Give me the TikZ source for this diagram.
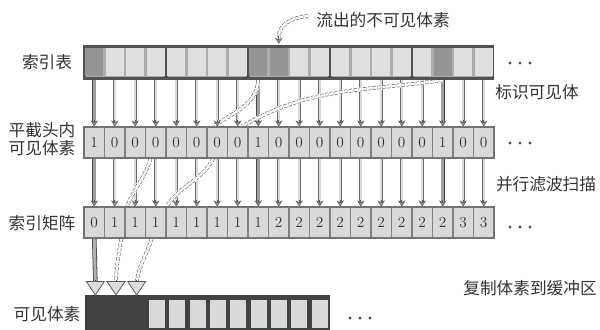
\documentclass[tikz,border=0pt]{standalone}
\usepackage{fontspec}
\newfontfamily\cjk{Noto Sans CJK SC}
\usetikzlibrary{arrows.meta,calc}
\pgfdeclarelayer{bg}
\pgfsetlayers{bg,main}
\begin{document}
\begin{tikzpicture}[x=0.75pt,y=-0.75pt,
  lbl/.style={font=\cjk\fontsize{12.5}{13}\selectfont, text=black!80, inner sep=0, align=center},
  topcell/.style={fill=black!12, minimum width=13.5pt, minimum height=21pt, inner sep=0},
  topdark/.style={topcell, fill=black!42},
  rowcell/.style={draw=black!50, line width=0.8pt, fill=black!15, minimum width=15.375pt, minimum height=23.25pt, inner sep=0, font=\fontsize{11.5}{13}\selectfont, text=black!80},
  outcell/.style={fill=black!15, minimum width=12pt, minimum height=21pt, inner sep=0},
  outdark/.style={minimum width=12pt, minimum height=21pt, inner sep=0},
  shaft/.style={draw=black!58, line width=0.5pt, double=black!15, double distance=1.5pt, shorten >=3pt},
  vshaft/.style={draw=black!72, line width=0.6pt, double=black!38, double distance=2pt, shorten >=3pt},
  bigshaft/.style={draw=black!72, line width=0.6pt, double=black!30, double distance=2.2pt},
  whitebg/.style={draw=white, line width=3.4pt},
  dcurve/.style={draw=black!62, line width=0.45pt, dash pattern=on 2.4pt off 1.2pt, double=white, double distance=1.8pt},
  headsmall/.style={draw=black!65, line width=0.4pt, -{Stealth[length=4.5pt,width=5.5pt,fill=black!40]}},
  headbig/.style={draw=black!65, line width=0.6pt, -{Triangle[length=11pt,width=14.5pt,fill=black!14]}},
  dot/.style={fill=black!70}]
\useasboundingbox (0,0) rectangle (600,329);

% ---- top bar (index table)
\fill[black!68] (83,45) rectangle (494,80);
\foreach \g in {0,...,4}{
  \fill[black!32] ({84+4*\g*20.5+1.6},47.5) rectangle ({84+(4*\g+4)*20.5-1.6},76.5);
}
\foreach \i/\a/\b in {1/1/0,2/0/1,3/0/1,4/0/1,5/0/1,6/0/1,7/0/1,8/0/1,9/1/1,10/0/2,11/0/2,12/0/2,13/0/2,14/0/2,15/0/2,16/0/2,17/0/2,18/1/2,19/0/3,20/0/3}{
  \pgfmathsetmacro\cx{84+(\i-0.5)*20.5}
  \ifnum\a=1 \def\sty{topdark}\else\ifnum\i=10 \def\sty{topdark}\else\def\sty{topcell}\fi\fi
  \node[\sty] (t\i) at (\cx,62) {};
  \node[rowcell] (f\i) at (\cx,142.5) {\a};
  \node[rowcell] (s\i) at (\cx,222.5) {\b};
}
\draw[black!55, line width=0.9pt] (84,127) rectangle (494,158);
\draw[black!55, line width=0.9pt] (84,207) rectangle (494,238);

% ---- output row
\fill[black!74] (85,295) rectangle (330,335);
\foreach \k in {1,2,3}{
  \node[outdark] (o\k) at ({85+(\k-0.5)*20.67},314) {};
}
\foreach \k in {4,...,12}{
  \node[outcell] (o\k) at ({147+(\k-3.5)*20.33},314) {};
}

% ---- labels
\node[lbl] (l1) at (47,62) {索引表};
\node[lbl] (l2) at (42,139) {平截头内\\可见体素};
\node[lbl] (l3) at (42,223) {索引矩阵};
\node[lbl] (l4) at (47,314) {可见体素};
\node[lbl] (l5) at (383,20) {流出的不可见体素};
\node[lbl] (l6) at (537,92) {标识可见体};
\node[lbl] (l7) at (546,184) {并行滤波扫描};
\node[lbl] (l8) at (530,288) {复制体素到缓冲区};

% ---- dots
\foreach \y in {63,143,227}{
  \foreach \x in {510,520,530}{ \fill[dot] (\x,\y) circle (1.7); }
}
\foreach \x in {350,360,370}{ \fill[dot] (\x,318) circle (1.7); }

% ---- connectors
\begin{pgfonlayer}{bg}
\foreach \i/\a in {1/1,2/0,3/0,4/0,5/0,6/0,7/0,8/0,9/1,10/0,11/0,12/0,13/0,14/0,15/0,16/0,17/0,18/1,19/0,20/0}{
  \ifnum\a=1 \def\sty{vshaft}\else\def\sty{shaft}\fi
  \draw[\sty] ([yshift=-3pt]t\i.south) -- (f\i.north);
  \draw[\sty] (f\i.south) -- (s\i.north);
}
% curves between the rows
\foreach \pass in {whitebg,dcurve}{
  \draw[\pass] ([yshift=-3pt]t9.south) to[out=-95,in=35] ([xshift=-3pt]f7.north);
  \draw[\pass] ([yshift=-3pt]t18.south) to[out=188,in=30] ([xshift=3pt]f8.north);
  \draw[\pass] ([xshift=-4pt]f4.south) to[out=-105,in=70] ([xshift=-6pt]s3.north);
  \draw[\pass] ([xshift=-3pt]f7.south) to[out=-118,in=58] ([xshift=-7pt]s5.north);
  \draw[\pass] ([xshift=5pt]s2.south) to[out=-100,in=88] ([yshift=14pt]o2.north);
  \draw[\pass] ([xshift=-3pt]s4.south) to[out=-108,in=80] ([yshift=14pt]o3.north);
  \draw[\pass] ([xshift=-6pt,yshift=3pt]l5.west) to[out=185,in=88] ([yshift=8pt]t10.north);
}
\draw[bigshaft] (s1.south) -- ([yshift=14pt]o1.north);
\end{pgfonlayer}
% heads
\foreach \i in {1,...,20}{
  \draw[headsmall] ([yshift=4.5pt]f\i.north) -- (f\i.north);
  \draw[headsmall] ([yshift=4.5pt]s\i.north) -- (s\i.north);
}
\draw[headsmall] ([yshift=9pt]t10.north) -- ([yshift=3pt]t10.north);
\foreach \k in {1,2,3}{
  \draw[headbig] ([yshift=15pt]o\k.north) -- ([yshift=3pt]o\k.north);
}
\end{tikzpicture}
\end{document}
